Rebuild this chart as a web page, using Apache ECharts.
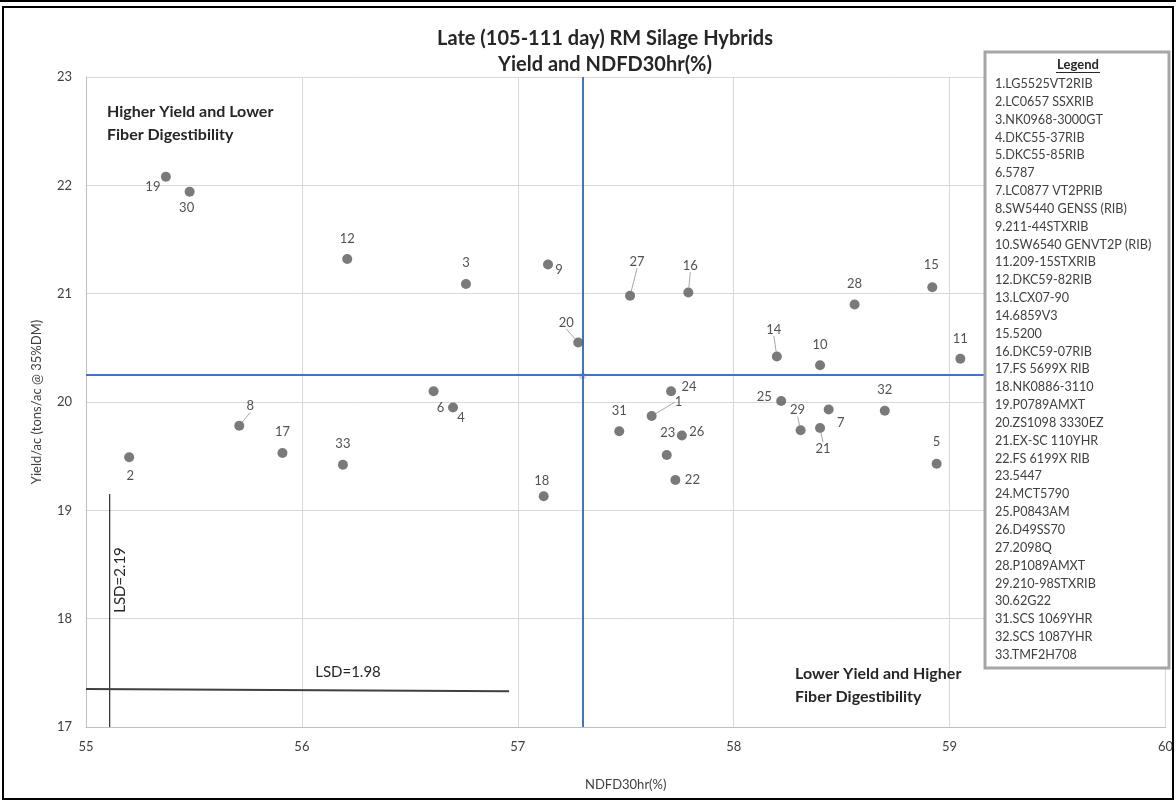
<!DOCTYPE html>
<html>
<head>
<meta charset="utf-8">
<script src="https://cdn.jsdelivr.net/npm/echarts@6/dist/echarts.min.js"></script>
<style>
html,body{margin:0;padding:0;background:#fff;}
#chart{width:1176px;height:800px;}
</style>
</head>
<body>
<div id="chart"></div>
<script>
// ---- data ----
const hybridNames = [
  "LG5525VT2RIB","LC0657 SSXRIB","NK0968-3000GT","DKC55-37RIB","DKC55-85RIB",
  "5787","LC0877 VT2PRIB","SW5440 GENSS (RIB)","211-44STXRIB","SW6540 GENVT2P (RIB)",
  "209-15STXRIB","DKC59-82RIB","LCX07-90","6859V3","5200",
  "DKC59-07RIB","FS 5699X RIB","NK0886-3110","P0789AMXT","ZS1098 3330EZ",
  "EX-SC 110YHR","FS 6199X RIB","5447","MCT5790","P0843AM",
  "D49SS70","2098Q","P1089AMXT","210-98STXRIB","62G22",
  "SCS 1069YHR","SCS 1087YHR","TMF2H708"
];
const ndfd30 = [
  57.62, 55.20, 56.76, 56.70, 58.94,
  56.61, 58.44, 55.71, 57.14, 58.40,
  59.05, 56.21, null, 58.20, 58.92,
  57.79, 55.91, 57.12, 55.37, 57.28,
  58.40, 57.73, 57.69, 57.71, 58.22,
  57.76, 57.52, 58.56, 58.31, 55.48,
  57.47, 58.70, 56.19
];
const yieldTons = [
  19.87, 19.49, 21.09, 19.95, 19.43,
  20.10, 19.93, 19.78, 21.27, 20.34,
  20.40, 21.32, null, 20.42, 21.06,
  21.01, 19.53, 19.13, 22.08, 20.55,
  19.76, 19.28, 19.51, 20.10, 20.01,
  19.69, 20.98, 20.90, 19.74, 21.94,
  19.73, 19.92, 19.42
];
const meanNdfd = 57.30;
const meanYield = 20.25;
const lsdYield = 2.19;
const lsdNdfd = 1.98;
const xTicks = [55, 56, 57, 58, 59, 60];
const yTicks = [17, 18, 19, 20, 21, 22, 23];

// ---- label placement (pixel offsets from each dot) ----
const labelOffsets = {
  1:[27,-14,1], 2:[1,19,0], 3:[0,-21,0], 4:[8,10,0], 5:[0,-22,0],
  6:[7,17,0], 7:[12,13,0], 8:[11,-20,1], 9:[11,5,0], 10:[0,-20,0],
  11:[0,-20,0], 12:[0,-20,0], 14:[-3,-27,1], 15:[-1,-22,0],
  16:[2,-27,1], 17:[0,-21,0], 18:[-2,-15,0], 19:[-13,10,0], 20:[-12,-20,1],
  21:[3,21,1], 22:[17,0,0], 23:[1,-22,0], 24:[18,-4,0], 25:[-17,-4,0],
  26:[15,-4,0], 27:[7,-34,1], 28:[0,-21,0], 29:[-3,-20,1], 30:[-3,16,0],
  31:[0,-20,0], 32:[0,-21,0], 33:[0,-21,0]
};

const FONT = 'Lato';
const points = [];
hybridNames.forEach((n, i) => {
  if (ndfd30[i] == null || yieldTons[i] == null) return;
  const num = i + 1;
  const off = labelOffsets[num] || [0,-20,0];
  points.push({
    value: [ndfd30[i], yieldTons[i]],
    num: num,
    labelLine: { show: !!off[2] }
  });
});

const chart = echarts.init(document.getElementById('chart'));

const legendText = hybridNames.map((n, i) => (i + 1) + '.' + n).join('\n');

const option = {
  animation: false,
  textStyle: { fontFamily: FONT },
  title: {
    text: 'Late (105-111 day) RM Silage Hybrids\nYield and NDFD30hr(%)',
    left: 600, top: 21, textAlign: 'center',
    textStyle: { fontFamily: FONT, fontSize: 20, fontWeight: 'bold', color: '#262626', lineHeight: 26 }
  },
  grid: { left: 86, right: 6, top: 77, bottom: 73 },
  xAxis: {
    type: 'value', min: xTicks[0], max: xTicks[xTicks.length - 1], interval: 1,
    name: 'NDFD30hr(%)', nameLocation: 'middle', nameGap: 51,
    nameTextStyle: { fontFamily: FONT, fontSize: 13, color: '#404040' },
    axisLine: { show: true, lineStyle: { color: '#bfbfbf', width: 1 } },
    axisTick: { show: false },
    axisLabel: { fontFamily: FONT, fontSize: 13, color: '#404040', margin: 13 },
    splitLine: { show: true, lineStyle: { color: '#d9d9d9', width: 1 } }
  },
  yAxis: {
    type: 'value', min: yTicks[0], max: yTicks[yTicks.length - 1], interval: 1,
    name: 'Yield/ac (tons/ac @ 35%DM)', nameLocation: 'middle', nameGap: 43,
    nameTextStyle: { fontFamily: FONT, fontSize: 13, color: '#404040' },
    axisLine: { show: true, lineStyle: { color: '#bfbfbf', width: 1 } },
    axisTick: { show: false },
    axisLabel: { fontFamily: FONT, fontSize: 13, color: '#404040', margin: 14 },
    splitLine: { show: true, lineStyle: { color: '#d9d9d9', width: 1 } }
  },
  series: [
    {
      name: 'LSD yield', type: 'line', symbol: 'none', silent: true,
      lineStyle: { color: '#000', width: 1 },
      data: [[55.11, yTicks[0]], [55.11, 16.96 + lsdYield]], z: 3
    },
    {
      name: 'LSD ndfd', type: 'line', symbol: 'none', silent: true,
      lineStyle: { color: '#404040', width: 2 },
      data: [[xTicks[0], 17.35], [xTicks[0] + lsdNdfd - 0.02, 17.33]], z: 3
    },
    {
      name: 'mean', type: 'scatter', symbolSize: 7, silent: true,
      itemStyle: { color: '#c9c9c9' },
      data: [[meanNdfd, meanYield - 0.01]],
      markLine: {
        silent: true, symbol: 'none',
        label: { show: false },
        lineStyle: { color: '#4472C4', width: 2, type: 'solid' },
        data: [{ xAxis: meanNdfd }, { yAxis: meanYield }]
      },
      z: 4
    },
    {
      name: 'hybrids', type: 'scatter', symbolSize: 10,
      itemStyle: { color: '#595959' },
      data: points,
      label: {
        show: true, position: 'inside',
        formatter: p => String(p.data.num),
        fontFamily: FONT, fontSize: 13, color: '#262626'
      },
      labelLine: { show: false, lineStyle: { color: '#a6a6a6', width: 1 } },
      labelLayout: function (params) {
        const d = points[params.dataIndex];
        const off = labelOffsets[d.num] || [0, -20, 0];
        return { dx: off[0], dy: off[1] };
      },
      z: 5
    }
  ],
  graphic: [
    { type: 'rect', shape: { x: 3, y: 7, width: 1170, height: 792 }, style: { fill: 'none', stroke: '#000', lineWidth: 2 }, z: 100, silent: true },
    { type: 'rect', shape: { x: 0, y: 0, width: 1176, height: 2 }, style: { fill: '#000' }, z: 100, silent: true },
    { type: 'text', left: 107, top: 100, style: { text: 'Higher Yield and Lower\nFiber Digestibility', font: 'bold 16px Lato', fill: '#262626', lineHeight: 23 }, z: 50 },
    { type: 'text', left: 795, top: 662, style: { text: 'Lower Yield and Higher\nFiber Digestibility', font: 'bold 16px Lato', fill: '#262626', lineHeight: 23 }, z: 50 },
    { type: 'text', x: 120, y: 580, rotation: Math.PI / 2, style: { text: 'LSD=' + lsdYield.toFixed(2), font: '15px Lato', fill: '#262626', align: 'center', verticalAlign: 'middle' }, z: 50 },
    { type: 'text', x: 348, y: 672, style: { text: 'LSD=' + lsdNdfd.toFixed(2), font: '15px Lato', fill: '#262626', align: 'center', verticalAlign: 'middle' }, z: 50 },
    { type: 'rect', shape: { x: 985, y: 52, width: 184, height: 616 }, style: { fill: '#fff', stroke: '#a6a6a6', lineWidth: 3 }, z: 60 },
    { type: 'text', x: 1078, y: 65, style: { text: 'Legend', font: 'bold 13px Lato', fill: '#262626', align: 'center', verticalAlign: 'middle' }, z: 61 },
    { type: 'line', shape: { x1: 1056, y1: 72.5, x2: 1100, y2: 72.5 }, style: { stroke: '#262626', lineWidth: 1 }, z: 61 },
    { type: 'text', x: 995, y: 75, style: { text: legendText, font: '12.6px Lato', fill: '#404040', lineHeight: 17.84 }, z: 61 }
  ]
};
chart.setOption(option);
</script>
</body>
</html>
